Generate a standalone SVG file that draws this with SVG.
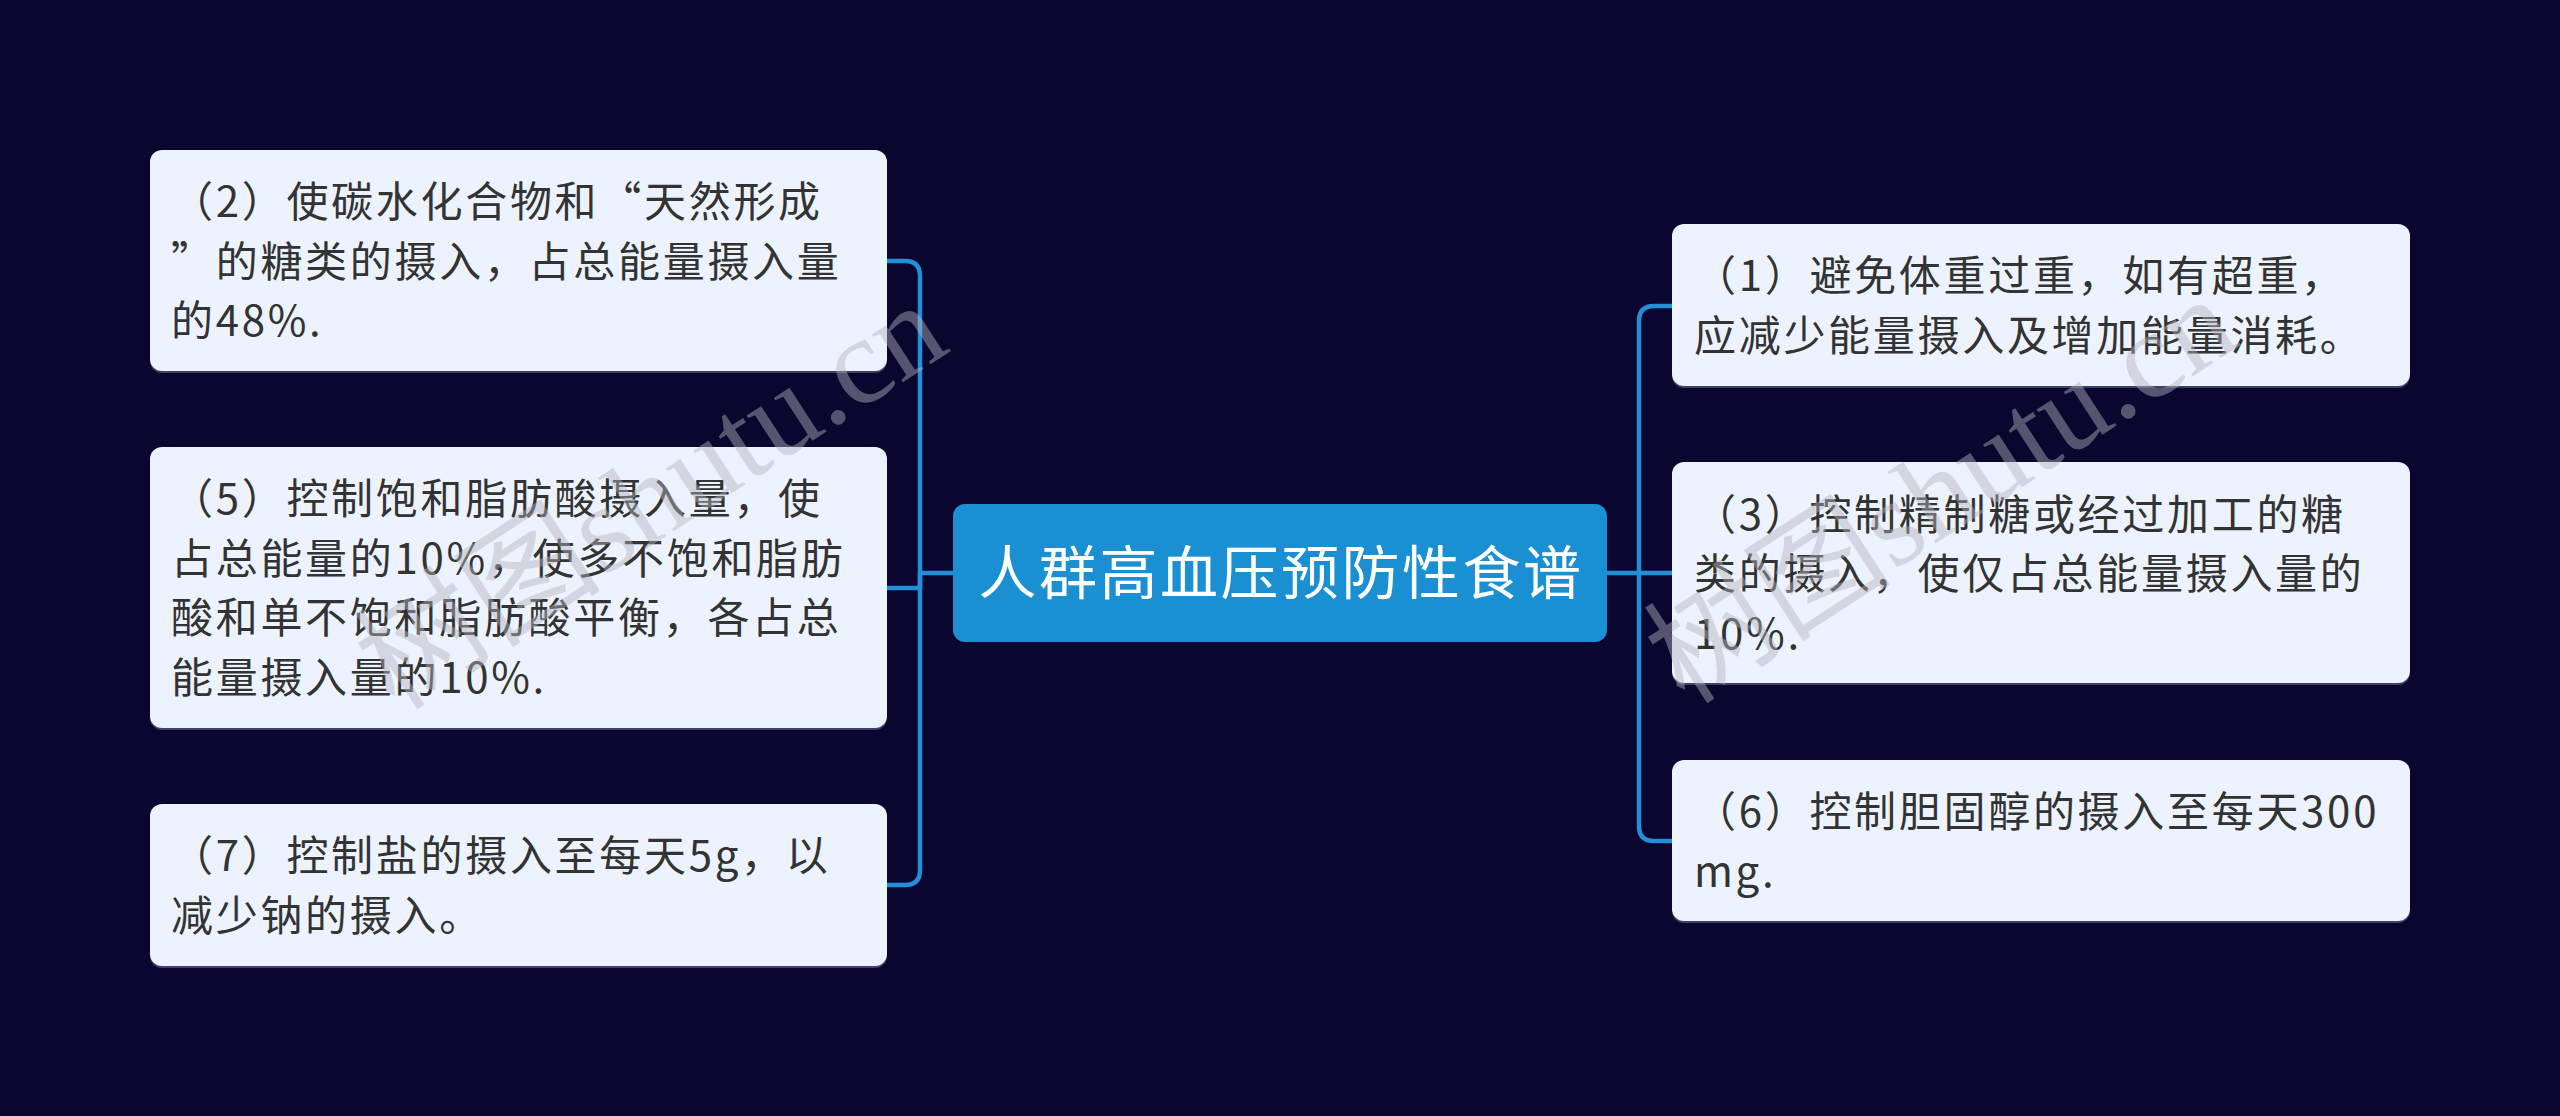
<svg xmlns="http://www.w3.org/2000/svg" width="2560" height="1116" viewBox="0 0 2560 1116">
<defs>
<style>
.bg{fill:#0a0630}
.box{fill:#edf3fe}
.shadow{fill:#7f8ab0;opacity:0.45}
.t{font-family:"Noto Sans CJK SC","Noto Sans",sans-serif;font-size:42px;letter-spacing:2.7px;fill:#333333}
.ct{font-family:"Noto Sans CJK SC","Noto Sans",sans-serif;font-size:58px;letter-spacing:2.5px;fill:#ffffff;text-anchor:middle}
.ln{fill:none;stroke:#2290d8;stroke-width:4.5;stroke-linejoin:round;stroke-linecap:butt}
.wm{font-family:"Liberation Serif","Noto Sans CJK SC",serif;font-size:124px;fill:#b4b4bc;opacity:0.45}
</style>
</defs>
<rect class="bg" x="0" y="0" width="2560" height="1116"/>
<g id="connectors">
<path class="ln" d="M 953 573 H 920"/>
<path class="ln" d="M 920 573 V 276 Q 920 261 905 261 H 887"/>
<path class="ln" d="M 920 573 V 588 H 887"/>
<path class="ln" d="M 920 573 V 870 Q 920 885 905 885 H 887"/>
<path class="ln" d="M 1607 573 H 1639"/>
<path class="ln" d="M 1639 573 V 321 Q 1639 306 1654 306 H 1672"/>
<path class="ln" d="M 1639 573 H 1672"/>
<path class="ln" d="M 1639 573 V 826 Q 1639 841 1654 841 H 1672"/>
</g>
<g id="center">
<rect x="953" y="504" width="654" height="138" rx="12" fill="#1a90d2"/>
<text class="ct" x="1281" y="594">人群高血压预防性食谱</text>
</g>
<g id="n2">
<rect class="shadow" x="150" y="152" width="737" height="221" rx="12"/>
<rect class="box" x="150" y="150" width="737" height="221" rx="12"/>
<text class="t" x="171" y="217">（2）使碳水化合物和“天然形成</text>
<text class="t" x="171" y="276.5">”的糖类的摄入，占总能量摄入量</text>
<text class="t" x="171" y="336">的48%.</text>
</g>
<g id="n5">
<rect class="shadow" x="150" y="449" width="737" height="281" rx="12"/>
<rect class="box" x="150" y="447" width="737" height="281" rx="12"/>
<text class="t" x="171" y="514">（5）控制饱和脂肪酸摄入量，使</text>
<text class="t" x="171" y="573.5">占总能量的10%，使多不饱和脂肪</text>
<text class="t" x="171" y="633">酸和单不饱和脂肪酸平衡，各占总</text>
<text class="t" x="171" y="692.5">能量摄入量的10%.</text>
</g>
<g id="n7">
<rect class="shadow" x="150" y="806" width="737" height="162" rx="12"/>
<rect class="box" x="150" y="804" width="737" height="162" rx="12"/>
<text class="t" x="171" y="871">（7）控制盐的摄入至每天5g，以</text>
<text class="t" x="171" y="930.5">减少钠的摄入。</text>
</g>
<g id="n1">
<rect class="shadow" x="1672" y="226" width="738" height="162" rx="12"/>
<rect class="box" x="1672" y="224" width="738" height="162" rx="12"/>
<text class="t" x="1694" y="291">（1）避免体重过重，如有超重，</text>
<text class="t" x="1694" y="350.5">应减少能量摄入及增加能量消耗。</text>
</g>
<g id="n3">
<rect class="shadow" x="1672" y="464" width="738" height="221" rx="12"/>
<rect class="box" x="1672" y="462" width="738" height="221" rx="12"/>
<text class="t" x="1694" y="529.5">（3）控制精制糖或经过加工的糖</text>
<text class="t" x="1694" y="589">类的摄入，使仅占总能量摄入量的</text>
<text class="t" x="1694" y="648.5">10%.</text>
</g>
<g id="n6">
<rect class="shadow" x="1672" y="762" width="738" height="161" rx="12"/>
<rect class="box" x="1672" y="760" width="738" height="161" rx="12"/>
<text class="t" x="1694" y="827">（6）控制胆固醇的摄入至每天300</text>
<text class="t" x="1694" y="886.5">mg.</text>
</g>
<g id="watermarks">
<text class="wm" transform="translate(395 712) rotate(-33)">树图shutu.cn</text>
<text class="wm" transform="translate(1685 706) rotate(-33)">树图shutu.cn</text>
</g>
</svg>
